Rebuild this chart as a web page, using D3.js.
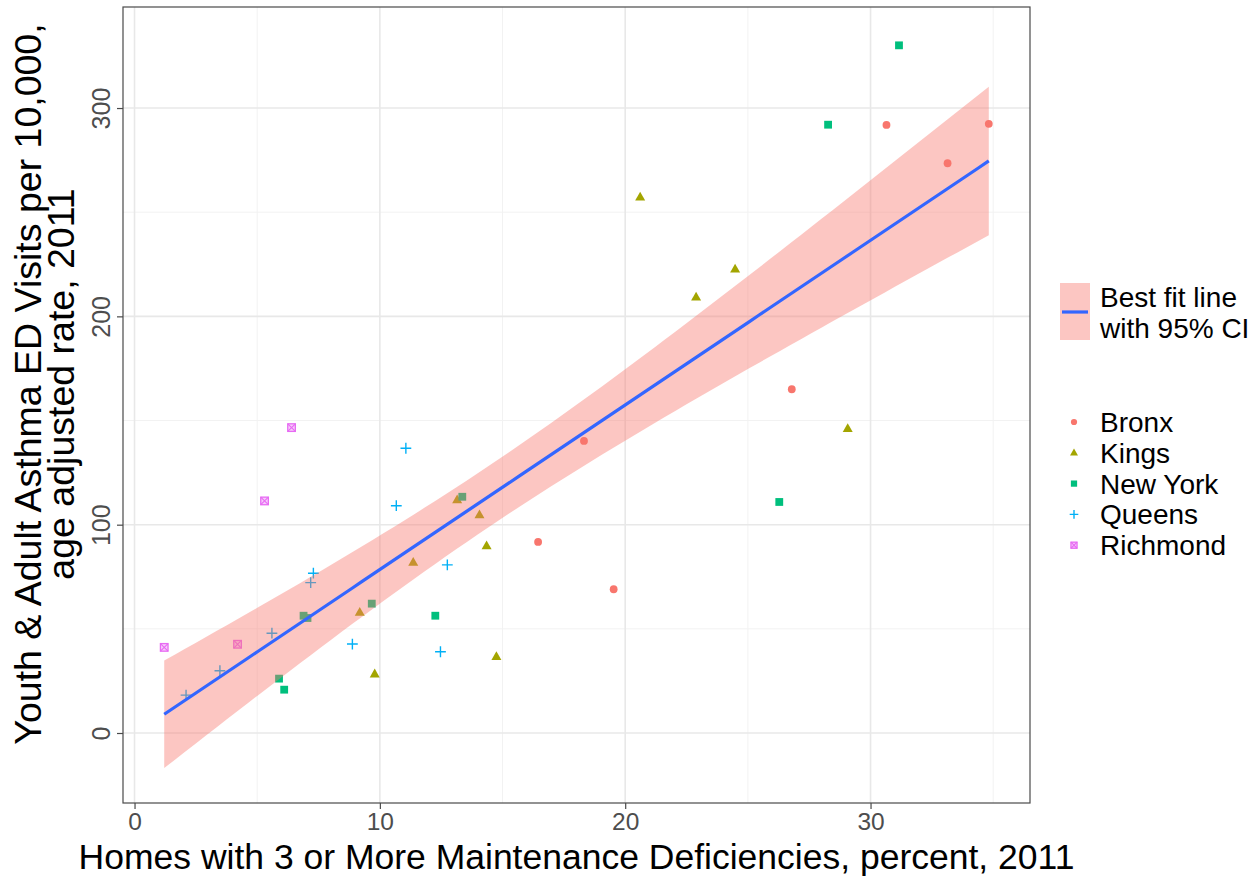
<!DOCTYPE html>
<html>
<head>
<meta charset="utf-8">
<script src="https://cdn.jsdelivr.net/npm/d3@7"></script>
<style>
  body { margin: 0; background: #fff; }
  text { font-family: "Liberation Sans", Arial, sans-serif; }
</style>
</head>
<body>
<svg id="chart" width="1257" height="878"></svg>
<script>
// Boroughs and their colours / symbols
const boroughs = ["Bronx", "Kings", "New York", "Queens", "Richmond"];
const boroughColors = ["#F8766D", "#A3A500", "#00BF7D", "#00B0F6", "#E76BF3"];
const boroughShapes = ["circle", "triangle", "square", "plus", "squareCross"];

// Neighbourhood values: % homes with 3+ maintenance deficiencies (x), asthma ED visit rate (y)
const bronxX = [16.45, 18.32, 19.53, 26.79, 30.65, 33.14, 34.82];
const bronxY = [91.7, 140.2, 69.0, 165.0, 291.9, 273.5, 292.4];
const kingsX = [9.18, 9.79, 11.36, 13.15, 14.06, 14.35, 14.75, 20.61, 22.89, 24.48, 29.07];
const kingsY = [57.9, 28.3, 81.9, 111.9, 104.7, 89.8, 36.6, 257.2, 209.2, 222.6, 146.1];
const newYorkX = [5.89, 6.10, 6.89, 7.05, 9.67, 12.26, 13.36, 26.28, 28.27, 31.16];
const newYorkY = [26.1, 20.8, 56.3, 55.2, 62.1, 56.3, 113.4, 110.9, 292.0, 330.1];
const queensX = [2.10, 3.48, 5.60, 7.18, 7.29, 8.88, 10.67, 11.06, 12.47, 12.75];
const queensY = [18.2, 29.9, 47.9, 72.2, 76.7, 42.7, 109.1, 136.7, 39.0, 80.7];
const richmondX = [1.21, 4.20, 5.30, 6.40];
const richmondY = [41.1, 42.6, 111.4, 146.6];

// Axis ticks
const xTicks = [0, 10, 20, 30];
const xMinorTicks = [5, 15, 25, 35];
const yTicks = [0, 100, 200, 300];
const yMinorTicks = [50, 150, 250];

const xTitle = "Homes with 3 or More Maintenance Deficiencies, percent, 2011";
const yTitleLines = ["Youth & Adult Asthma ED Visits per 10,000,", "age adjusted rate, 2011"];
const fitLegendLines = ["Best fit line", "with 95% CI"];

const seriesX = [bronxX, kingsX, newYorkX, queensX, richmondX];
const seriesY = [bronxY, kingsY, newYorkY, queensY, richmondY];

const points = [];
boroughs.forEach((b, i) => {
  seriesX[i].forEach((x, j) => points.push({ borough: b, idx: i, x: x, y: seriesY[i][j] }));
});

// Ordinary least squares fit with 95% confidence band of the mean
function linearFit(pts, nOut) {
  const n = pts.length;
  const mx = d3.mean(pts, d => d.x), my = d3.mean(pts, d => d.y);
  const sxx = d3.sum(pts, d => (d.x - mx) ** 2);
  const sxy = d3.sum(pts, d => (d.x - mx) * (d.y - my));
  const b = sxy / sxx, a = my - b * mx;
  const rss = d3.sum(pts, d => (d.y - a - b * d.x) ** 2);
  const s = Math.sqrt(rss / (n - 2));
  const t = 2.021; // t quantile, 0.975, 40 df
  const [x0, x1] = d3.extent(pts, d => d.x);
  return d3.range(nOut).map(k => {
    const x = x0 + (x1 - x0) * k / (nOut - 1);
    const yhat = a + b * x;
    const se = s * Math.sqrt(1 / n + (x - mx) ** 2 / sxx);
    return { x: x, y: yhat, lo: yhat - t * se, hi: yhat + t * se };
  });
}
const fit = linearFit(points, 80);

const svg = d3.select("#chart");
const panel = { left: 123, right: 1030, top: 7, bottom: 803 };

const x = d3.scaleLinear().domain([-0.47, 36.5]).range([panel.left, panel.right]);
const y = d3.scaleLinear().domain([-33.6, 348.5]).range([panel.bottom, panel.top]);

// Grid
const grid = svg.append("g");
grid.selectAll(".xminor").data(xMinorTicks).join("line")
  .attr("x1", d => x(d)).attr("x2", d => x(d))
  .attr("y1", panel.top).attr("y2", panel.bottom)
  .attr("stroke", "#F2F2F2").attr("stroke-width", 1);
grid.selectAll(".yminor").data(yMinorTicks).join("line")
  .attr("y1", d => y(d)).attr("y2", d => y(d))
  .attr("x1", panel.left).attr("x2", panel.right)
  .attr("stroke", "#F2F2F2").attr("stroke-width", 1);
grid.selectAll(".xmajor").data(xTicks).join("line")
  .attr("x1", d => x(d)).attr("x2", d => x(d))
  .attr("y1", panel.top).attr("y2", panel.bottom)
  .attr("stroke", "#E8E8E8").attr("stroke-width", 1.6);
grid.selectAll(".ymajor").data(yTicks).join("line")
  .attr("y1", d => y(d)).attr("y2", d => y(d))
  .attr("x1", panel.left).attr("x2", panel.right)
  .attr("stroke", "#E8E8E8").attr("stroke-width", 1.6);

// Point symbols
function drawSymbol(g, shape, color, cx, cy, s) {
  if (shape === "circle") {
    g.append("circle").attr("cx", cx).attr("cy", cy).attr("r", 3.9 * s).attr("fill", color);
  } else if (shape === "triangle") {
    const h = 8.8 * s, w = 10 * s;
    g.append("path")
      .attr("d", `M${cx},${cy - h * 0.62}L${cx + w / 2},${cy + h * 0.38}L${cx - w / 2},${cy + h * 0.38}Z`)
      .attr("fill", color);
  } else if (shape === "square") {
    const w = 7.8 * s;
    g.append("rect").attr("x", cx - w / 2).attr("y", cy - w / 2).attr("width", w).attr("height", w).attr("fill", color);
  } else if (shape === "plus") {
    const r = 5.4 * s;
    g.append("path").attr("d", `M${cx - r},${cy}H${cx + r}M${cx},${cy - r}V${cy + r}`)
      .attr("stroke", color).attr("stroke-width", 1.4).attr("fill", "none");
  } else {
    const r = 3.8 * s;
    g.append("rect").attr("x", cx - r).attr("y", cy - r).attr("width", 2 * r).attr("height", 2 * r)
      .attr("fill", color).attr("fill-opacity", 0.35)
      .attr("stroke", color).attr("stroke-width", 1.3);
    g.append("path").attr("d", `M${cx - r},${cy - r}L${cx + r},${cy + r}M${cx + r},${cy - r}L${cx - r},${cy + r}`)
      .attr("stroke", color).attr("stroke-width", 1.1);
  }
}

const pointLayer = svg.append("g");
points.forEach(p => {
  drawSymbol(pointLayer, boroughShapes[p.idx], boroughColors[p.idx], x(p.x), y(p.y), 1);
});

// Confidence band and fitted line
svg.append("path").datum(fit)
  .attr("d", d3.area().x(d => x(d.x)).y0(d => y(d.lo)).y1(d => y(d.hi)))
  .attr("fill", "#F8766D").attr("fill-opacity", 0.42);
svg.append("path").datum(fit)
  .attr("d", d3.line().x(d => x(d.x)).y(d => y(d.y)))
  .attr("fill", "none").attr("stroke", "#3366FF").attr("stroke-width", 3.2);

// Panel border
svg.append("rect")
  .attr("x", panel.left).attr("y", panel.top)
  .attr("width", panel.right - panel.left).attr("height", panel.bottom - panel.top)
  .attr("fill", "none").attr("stroke", "#4a4a4a").attr("stroke-width", 1.2);

// Axes
const xAxis = svg.append("g").attr("transform", `translate(0,${panel.bottom})`)
  .call(d3.axisBottom(x).tickValues(xTicks).tickSize(6).tickPadding(4));
xAxis.select(".domain").remove();
xAxis.selectAll("line").attr("stroke", "#4a4a4a").attr("stroke-width", 1.2);
xAxis.selectAll("text").attr("fill", "#4D4D4D").style("font-size", "24.5px")
  .style("font-family", "'Liberation Sans', Arial, sans-serif");

const yAxis = svg.append("g").attr("transform", `translate(${panel.left},0)`)
  .call(d3.axisLeft(y).tickValues(yTicks).tickSize(6).tickFormat(d3.format("d")));
yAxis.select(".domain").remove();
yAxis.selectAll("line").attr("stroke", "#4a4a4a").attr("stroke-width", 1.2);
yAxis.selectAll("text").attr("fill", "#4D4D4D").style("font-size", "25px")
  .style("font-family", "'Liberation Sans', Arial, sans-serif")
  .attr("x", null).attr("dy", null)
  .attr("text-anchor", "middle")
  .attr("transform", "translate(-13,0) rotate(-90)");

// Axis titles
svg.append("text")
  .attr("x", (panel.left + panel.right) / 2).attr("y", 869)
  .attr("text-anchor", "middle").attr("fill", "#000")
  .style("font-size", "35.5px")
  .text(xTitle);

const yTitle = svg.append("text")
  .attr("transform", "translate(0,384) rotate(-90)")
  .attr("text-anchor", "middle").attr("fill", "#000")
  .style("font-size", "37.5px");
yTitle.selectAll("tspan").data(yTitleLines).join("tspan")
  .attr("x", 0).attr("y", (d, i) => 41 + i * 33)
  .text(d => d);

// Legend: fitted line
const legend = svg.append("g");
legend.append("rect").attr("x", 1060).attr("y", 283).attr("width", 30).attr("height", 57)
  .attr("fill", "#F8766D").attr("fill-opacity", 0.42);
legend.append("line").attr("x1", 1062).attr("x2", 1088).attr("y1", 312).attr("y2", 312)
  .attr("stroke", "#3366FF").attr("stroke-width", 3.2);
legend.selectAll(".fitlab").data(fitLegendLines).join("text")
  .attr("x", 1100).attr("y", (d, i) => 307 + i * 31)
  .style("font-size", "28px").attr("fill", "#000")
  .text(d => d);

// Legend: boroughs
boroughs.forEach((b, i) => {
  const cy = 422 + i * 30.8;
  drawSymbol(legend, boroughShapes[i], boroughColors[i], 1074, cy, 0.8);
  legend.append("text").attr("x", 1100).attr("y", cy + 10)
    .style("font-size", "28px").attr("fill", "#000").text(b);
});
</script>
</body>
</html>
